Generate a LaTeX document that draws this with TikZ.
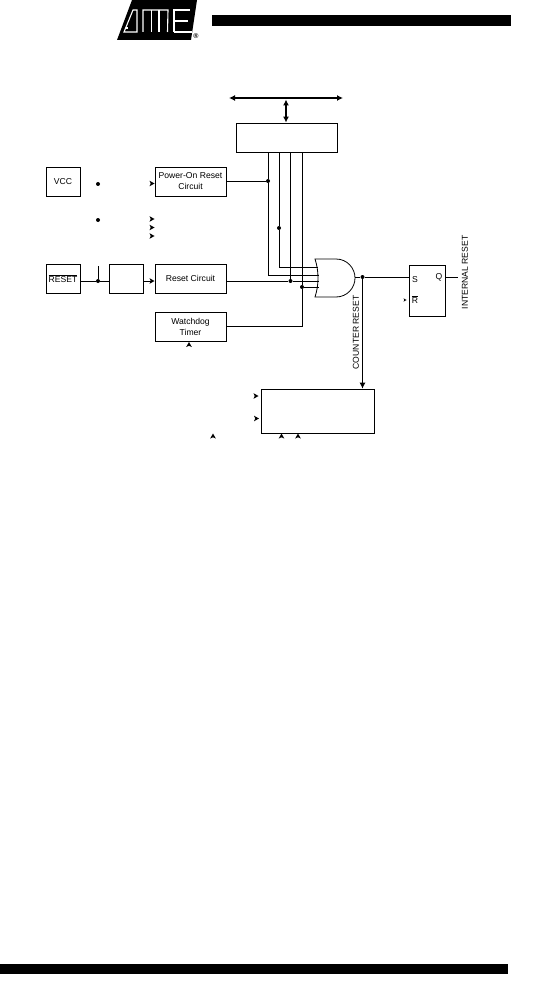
\documentclass[tikz,border=0pt]{standalone}
\usepackage{fontspec}
\setmainfont{Liberation Sans}
\usetikzlibrary{arrows.meta,calc}
\tikzset{
  blk/.style={draw,line width=.8pt,rectangle,inner sep=0pt,align=center,font=\fontsize{8.6}{11}\selectfont},
  wire/.style={line width=.8pt},
  dotn/.style={circle,fill=black,inner sep=0pt,minimum size=4pt},
  lbl/.style={inner sep=0pt,font=\fontsize{8.6}{10}\selectfont},
  tipn/.style={fill=black},
  logoline/.style={white,line width=1.1pt}
}
\newcommand{\tipat}[3]{\fill[tipn,shift={(#1,#2)},rotate=#3] (2.5,0) -- (-2.5,2.8) -- (-1.3,0) -- (-2.5,-2.8) -- cycle;}
\newcommand{\rbox}[7]{\node[blk,minimum width=#4pt,minimum height=#5pt,#7] (#1) at (#2,#3) {#6};}
\begin{document}
\begin{tikzpicture}[x=1pt,y=-1pt]
\useasboundingbox (0,0) rectangle (556,995);
% header & footer
\fill (212,15) rectangle (511,26);
\fill (0,964) rectangle (508,974);
% logo
\fill (132,0) -- (197,0) -- (191,40) -- (117,40) -- cycle;
\draw[logoline] (124,32) -- (133,10) -- (137,10) -- (137,32) -- cycle;
\fill[white] (125.5,29.5) rectangle (127.5,27);
\draw[logoline] (143,32) -- (143,10) -- (168,10) -- (167.5,32);
\draw[logoline] (151.7,10) -- (151.7,32);
\draw[logoline] (159,10) -- (159,32);
\draw[logoline] (174,32) -- (174,10) -- (190,10);
\draw[logoline] (174.5,21) -- (188,21);
\draw[logoline] (174,32) -- (192,32);
\node[inner sep=0pt,font=\fontsize{7}{7}\selectfont\bfseries] (reg) at (196,36.5) {®};
% blocks
\rbox{vcc}{63}{181.5}{34}{29}{VCC}{}
\rbox{por}{190.5}{181.5}{71}{29}{Power-On Reset\\Circuit}{}
\rbox{rst}{63}{278.5}{34}{29}{$\overline{\mbox{RESET}}$}{}
\rbox{mid}{126}{278.5}{34}{29}{}{}
\rbox{rc}{190.5}{278.5}{71}{29}{Reset Circuit}{}
\rbox{wd}{190.5}{327}{71}{29}{Watchdog\\Timer}{}
\rbox{top}{286.8}{137.5}{101.5}{29}{}{}
\rbox{cnt}{317.8}{411}{113.5}{44}{}{}
\rbox{sr}{427}{290.5}{36}{51}{}{}
% gate
\draw[wire] (315,259) -- (336,259) .. controls (347,259) and (355,268) .. (355,278) .. controls (355,288) and (347,297) .. (336,297) -- (315,297) .. controls (319,285) and (319,271) .. (315,259) -- cycle;
\coordinate (gtop) at (317.5,267);
\coordinate (gb) at (318.5,275);
\coordinate (gc) at (319,281);
\coordinate (gd) at (318.5,287);
\coordinate (gout) at (355,277);
% junctions
\node[dotn] (d1) at (98,184) {};
\node[dotn] (d2) at (98,220) {};
\node[dotn] (d3) at (98,281) {};
\node[dotn] (j1) at (268,181) {};
\node[dotn] (j2) at (279,228) {};
\node[dotn] (j3) at (290.5,281) {};
\node[dotn] (j4) at (302,287) {};
\node[dotn] (j5) at (362.5,277) {};
% wires
\draw[wire] (por.east |- j1) -- (j1);
\draw[wire] (top.south -| j1) -- (j1) |- (gb);
\draw[wire] (top.south -| j2) -- (j2) |- (gtop);
\draw[wire] (top.south -| j3) -- (j3);
\draw[wire] (top.south -| j4) -- (j4) -- (gd);
\draw[wire] (rc.east |- j3) -- (j3) -- (gc);
\draw[wire] (wd.east |- 0,326) -| (j4);
\draw[wire] (rst.east |- d3) -- (d3) -- (mid.west |- d3);
\coordinate (rs) at (98,266);
\draw[wire] (rs) -- (d3);
\draw[wire] (mid.east |- d3) -- (152,281);
\draw[wire] (gout) -- (j5) -- (sr.west |- j5);
\coordinate (q) at (458,277);
\draw[wire] (sr.east |- q) -- (q);
\draw[wire,-{Latex[length=6pt,width=6pt]}] (j5) -- (j5 |- cnt.north);
% bus
\coordinate (bl) at (229,98);
\coordinate (br) at (343,98);
\draw[line width=1.4pt,{Latex[length=6pt,width=6pt]}-{Latex[length=6pt,width=6pt]}] (bl) -- (br);
\coordinate (bm) at (286,99.5);
\draw[line width=1.4pt,{Latex[length=6pt,width=6pt]}-{Latex[length=6pt,width=6pt]}] (bm) -- (bm |- top.north);
% stub tips
\tipat{152}{183.5}{0}
\tipat{152}{219}{0}
\tipat{152}{227.5}{0}
\tipat{152}{236}{0}
\tipat{152}{281}{0}
\tipat{189}{344.5}{90}
\tipat{256}{396}{0}
\tipat{256.5}{418.5}{0}
\tipat{213}{436}{90}
\tipat{281.5}{436}{90}
\tipat{298}{436}{90}
\fill[tipn,shift={(405,300)},scale=.6] (2.5,0) -- (-2.5,2.8) -- (-1.3,0) -- (-2.5,-2.8) -- cycle;
% labels
\node[lbl] (ls) at (415,280) {S};
\node[lbl] (lq) at (439,277) {Q};
\node[lbl] (lr) at (415,299.5) {$\overline{\mbox{R}}$};
\node[lbl,rotate=90] (ir) at (465,272.5) {INTERNAL RESET};
\node[lbl,rotate=90] (cr) at (356,332.5) {COUNTER RESET};
\end{tikzpicture}
\end{document}
